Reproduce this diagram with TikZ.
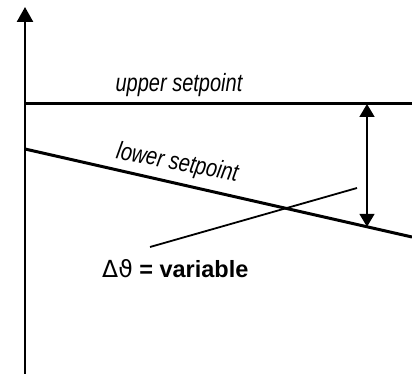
\documentclass[tikz,border=0pt]{standalone}
\usepackage{fontspec}
\setmainfont{Liberation Sans}
\newfontfamily\dejavu{DejaVu Sans}
\usetikzlibrary{arrows.meta}
\begin{document}
\begin{tikzpicture}[x=1pt,y=-1pt,
  thickline/.style={line width=3pt},
  thinline/.style={line width=1.8pt},
  axisarrow/.style={line width=2.5pt,-{Triangle[length=15pt,width=16pt]}},
  dimarrow/.style={line width=1.8pt,{Triangle[length=13pt,width=15pt]}-{Triangle[length=13pt,width=15pt]}},
  lbl/.style={inner sep=0pt,font=\fontsize{25}{28}\selectfont\itshape,xscale=0.8}]
\useasboundingbox (0,0) rectangle (412,374);
\coordinate (axb) at (25,374);
\coordinate (axt) at (25,7);
\coordinate (ul) at (25,104);
\coordinate (ur) at (412,104);
\coordinate (ll) at (25,149);
\coordinate (lr) at (412,237);
\coordinate (ts) at (150,247);
\coordinate (te) at (357,188);
\coordinate (at) at (367,104);
\coordinate (ab) at (367,226.8);
\draw[axisarrow] (axb) -- (axt);
\draw[thickline] (ul) -- (ur);
\draw[thickline] (ll) -- (lr);
\draw[thinline] (ts) -- (te);
\draw[dimarrow] (at) -- (ab);
\node[lbl,anchor=base] (up) at (179,92) {upper setpoint};
\node[rotate=-11,lbl,anchor=base] (lo) at (176,170) {lower setpoint};
\node[inner sep=0pt,anchor=base west,font=\fontsize{23.5}{26}\selectfont\bfseries] (dv) at (102,277) {{\dejavu\mdseries Δϑ} = variable};
\end{tikzpicture}
\end{document}
